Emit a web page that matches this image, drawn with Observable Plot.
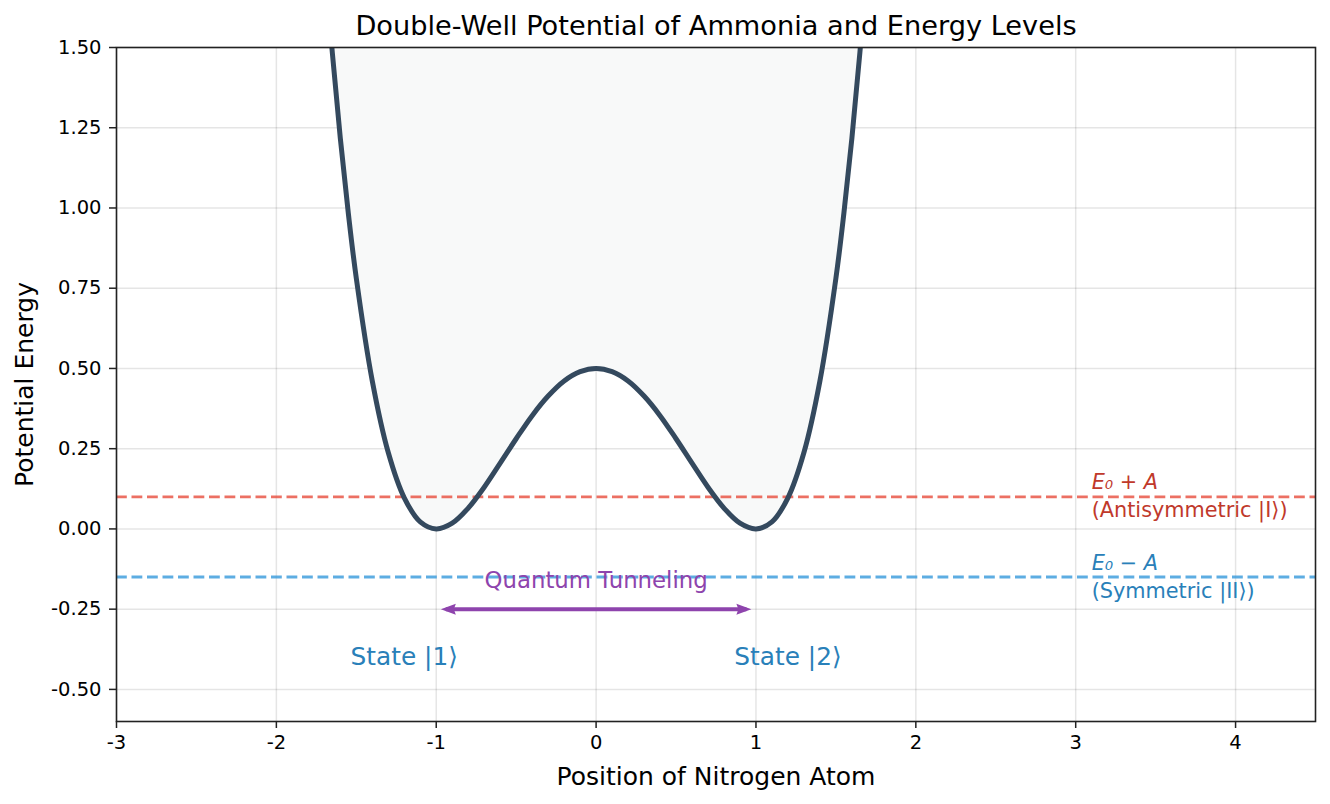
<!DOCTYPE html>
<html>
<head>
<meta charset="utf-8">
<script src="https://cdn.jsdelivr.net/npm/d3@7"></script>
<script src="https://cdn.jsdelivr.net/npm/@observablehq/plot@0.6"></script>
<style>
  html, body { margin: 0; padding: 0; background: #fff; }
  #chart svg { display: block; }
</style>
</head>
<body>
<div id="chart"></div>
<script>
// Double-well potential V(x), sampled along the nitrogen position
const wellX = [-1.7, -1.65, -1.6, -1.55, -1.5, -1.4, -1.3, -1.2, -1.1, -1.0, -0.9, -0.8, -0.7, -0.6, -0.5, -0.4, -0.3, -0.2, -0.1, 0,
               0.1, 0.2, 0.3, 0.4, 0.5, 0.6, 0.7, 0.8, 0.9, 1.0, 1.1, 1.2, 1.3, 1.4, 1.5, 1.55, 1.6, 1.65, 1.7];
const wellV = [1.786, 1.484, 1.217, 0.984, 0.781, 0.461, 0.238, 0.097, 0.022, 0.0, 0.018, 0.065, 0.130, 0.205, 0.281, 0.353, 0.414, 0.461, 0.490, 0.5,
               0.490, 0.461, 0.414, 0.353, 0.281, 0.205, 0.130, 0.065, 0.018, 0.0, 0.022, 0.097, 0.238, 0.461, 0.781, 0.984, 1.217, 1.484, 1.786];

// Split energy levels
const levelNames = ["antisymmetric", "symmetric"];
const levelEnergy = [0.1, -0.15];
const levelMath = ["E\u2080 + A", "E\u2080 \u2212 A"];
const levelText = ["(Antisymmetric |I\u27E9)", "(Symmetric |II\u27E9)"];

// Localized states and the tunneling between them
const stateLabels = ["State |1\u27E9", "State |2\u27E9"];
const stateX = [-1.2, 1.2];
const tunnelX = [-0.94, 0.94];

// Axis ticks
const xTicks = [-3, -2, -1, 0, 1, 2, 3, 4];
const yTicks = [-0.5, -0.25, 0, 0.25, 0.5, 0.75, 1.0, 1.25, 1.5];

const yMax = 1.5;
const well = wellX.map((x, i) => ({x, v: wellV[i]}));
const levels = levelNames.map((name, i) => ({name, e: levelEnergy[i], math: levelMath[i], text: levelText[i]}));
const states = stateLabels.map((label, i) => ({label, x: stateX[i]}));

const levelColor = {antisymmetric: "#e74c3c", symmetric: "#3498db"};
const levelTextColor = {antisymmetric: "#c0392b", symmetric: "#2980b9"};
const tunnelY = -0.25;
const labelX = 3.1;

// Filled triangular arrowhead used at both ends of the tunneling arrow
function filledHead(color, context) {
  const ns = "http://www.w3.org/2000/svg";
  const marker = context.document.createElementNS(ns, "marker");
  marker.setAttribute("viewBox", "-14 -8 22 16");
  marker.setAttribute("markerWidth", 22);
  marker.setAttribute("markerHeight", 16);
  marker.setAttribute("markerUnits", "userSpaceOnUse");
  marker.setAttribute("orient", "auto-start-reverse");
  marker.setAttribute("overflow", "visible");
  const path = context.document.createElementNS(ns, "path");
  path.setAttribute("d", "M5,0L-10,-5.5L-8,0L-10,5.5Z");
  path.setAttribute("fill", color);
  path.setAttribute("stroke", "none");
  marker.appendChild(path);
  return marker;
}

const chart = Plot.plot({
  width: 1330,
  height: 804,
  marginLeft: 116,
  marginRight: 15,
  marginTop: 47,
  marginBottom: 83,
  x: {domain: [-3, 4.5]},
  y: {domain: [-0.6, 1.5]},
  style: {fontFamily: "'DejaVu Sans', sans-serif", background: "#fff", color: "#000"},
  marks: [
    Plot.gridX(xTicks, {stroke: "#000", strokeOpacity: 0.1, strokeWidth: 1.5}),
    Plot.gridY(yTicks, {stroke: "#000", strokeOpacity: 0.1, strokeWidth: 1.5}),
    // shaded region above the potential
    Plot.areaY(well, {x: "x", y1: "v", y2: yMax, fill: "#f8f9f9", curve: "catmull-rom", clip: true}),
    // energy levels
    Plot.ruleY(levels, {y: "e", stroke: d => levelColor[d.name], strokeOpacity: 0.8, strokeWidth: 2.9, strokeDasharray: "10.8,4.7"}),
    // potential curve
    Plot.line(well, {x: "x", y: "v", stroke: "#34495e", strokeWidth: 5, curve: "catmull-rom", clip: true}),
    // tunneling arrow (double headed)
    Plot.link([tunnelX], {x1: d => d[0], x2: d => d[1], y1: tunnelY, y2: tunnelY, stroke: "#8e44ad", strokeWidth: 4,
      markerStart: filledHead, markerEnd: filledHead}),
    Plot.text(["Quantum Tunneling"], {x: 0, y: -0.16, text: d => d, fill: "#8e44ad", fontSize: 22.8, lineAnchor: "middle"}),
    Plot.text(states, {x: "x", y: -0.398, text: "label", fill: "#2980b9", fontSize: 24.8, lineAnchor: "middle"}),
    // level labels
    Plot.text(levels, {x: labelX, y: "e", text: "math", fill: d => levelTextColor[d.name], fontSize: 20.8, fontStyle: "italic", textAnchor: "start", lineAnchor: "middle", dy: -14}),
    Plot.text(levels, {x: labelX, y: "e", text: "text", fill: d => levelTextColor[d.name], fontSize: 20.8, textAnchor: "start", lineAnchor: "middle", dy: 14}),
    Plot.frame({stroke: "#222", strokeWidth: 1.6}),
    Plot.axisX({ticks: xTicks, tickSize: 7, tickPadding: 7, fontSize: 19.5, tickFormat: d => String(d), label: null, strokeWidth: 1.5, stroke: "#222"}),
    Plot.axisY({ticks: yTicks, tickSize: 7, tickPadding: 8, fontSize: 19.5, tickFormat: d => d.toFixed(2), label: null, strokeWidth: 1.5, stroke: "#222"}),
    // titles
    Plot.text(["Position of Nitrogen Atom"], {frameAnchor: "bottom", text: d => d, dy: 55, fontSize: 25, lineAnchor: "middle"}),
    Plot.text(["Potential Energy"], {frameAnchor: "left", text: d => d, dx: -92, rotate: -90, fontSize: 25, textAnchor: "middle", lineAnchor: "middle"}),
    Plot.text(["Double-Well Potential of Ammonia and Energy Levels"], {frameAnchor: "top", text: d => d, dy: -21, fontSize: 27.2, lineAnchor: "middle"})
  ]
});

document.getElementById("chart").appendChild(chart);
</script>
</body>
</html>
